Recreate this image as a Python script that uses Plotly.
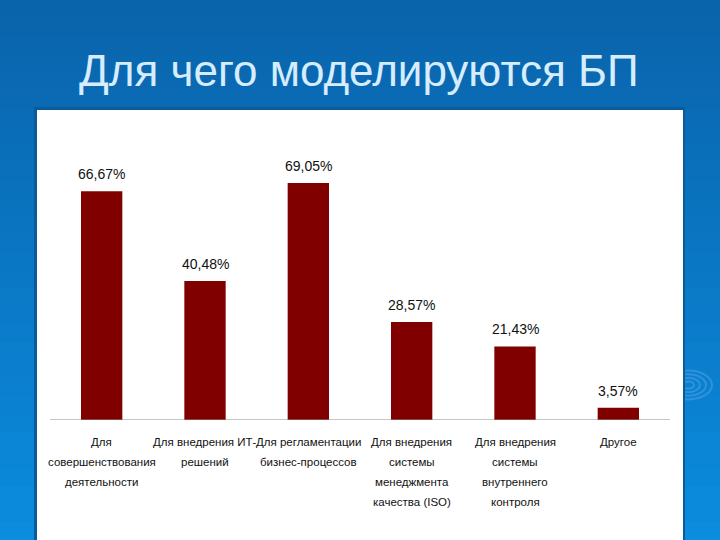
import plotly.graph_objects as go

title = "Для чего моделируются БП"
categories = [
    "Для<br>совершенствования<br>деятельности",
    "Для внедрения ИТ-<br>решений",
    "Для регламентации<br>бизнес-процессов",
    "Для внедрения<br>системы<br>менеджмента<br>качества (ISO)",
    "Для внедрения<br>системы<br>внутреннего<br>контроля",
    "Другое",
]
values = [66.67, 40.48, 69.05, 28.57, 21.43, 3.57]

W, H = 720, 540
L, R, T, B = 50, 50, 130, 120
PW, PH = W - L - R, H - T - B


def px(x):
    return (x - L) / PW


def py(y):
    return (H - B - y) / PH


keys = [f"c{i}" for i in range(len(categories))]

fig = go.Figure()
fig.add_trace(go.Bar(
    x=keys, y=values, marker=dict(color="#800000", line=dict(width=0)),
    hoverinfo="skip",
))

shapes = []
# background vertical gradient
n = 30
top_c = (10, 100, 172)
bot_c = (12, 140, 222)
for i in range(n):
    f = i / (n - 1)
    c = tuple(int(top_c[k] + (bot_c[k] - top_c[k]) * f) for k in range(3))
    shapes.append(dict(type="rect", xref="paper", yref="paper", layer="below",
                       x0=px(-2), x1=px(W + 2), y0=py(H * i / n), y1=py(H * (i + 1) / n + 1),
                       fillcolor=f"rgb{c}", line=dict(width=0)))
# swirl decoration
for r in (6, 12, 18, 24):
    shapes.append(dict(type="circle", xref="paper", yref="paper", layer="below",
                       x0=px(688 - r), x1=px(688 + r), y0=py(385 + r * 0.6), y1=py(385 - r * 0.6),
                       line=dict(color="rgba(130,190,245,0.3)", width=2), fillcolor="rgba(0,0,0,0)"))
# panel shadow + white panel
shapes.append(dict(type="rect", xref="paper", yref="paper", layer="below",
                   x0=px(34), x1=px(685), y0=py(H + 2), y1=py(107),
                   fillcolor="#0b5a9a", line=dict(width=0)))
shapes.append(dict(type="rect", xref="paper", yref="paper", layer="below",
                   x0=px(37), x1=px(683), y0=py(H + 2), y1=py(110),
                   fillcolor="white", line=dict(width=0)))
# baseline
shapes.append(dict(type="line", xref="paper", yref="y", x0=0, x1=1, y0=0, y1=0,
                   line=dict(color="#8c8c8c", width=1)))

annotations = []
for k, v in zip(keys, values):
    annotations.append(dict(x=k, y=v, xref="x", yref="y", text=f"{v:.2f}%".replace(".", ","),
                            showarrow=False, yanchor="bottom", yshift=7,
                            font=dict(family="Liberation Sans, Arial", size=14, color="#111")))
for k, lab in zip(keys, categories):
    for i, line in enumerate(lab.split("<br>")):
        annotations.append(dict(x=k, y=0, xref="x", yref="y", text=line, showarrow=False,
                                yanchor="middle", yshift=-(22 + 20 * i),
                                font=dict(family="Liberation Sans, Arial", size=11.5, color="#111")))
annotations.append(dict(x=px(359), y=py(70), xref="paper", yref="paper", text=title,
                        showarrow=False, yanchor="middle", xanchor="center",
                        font=dict(family="Liberation Sans, Arial", size=44, color="#d6edff")))

fig.update_layout(
    width=W, height=H, margin=dict(l=L, r=R, t=T, b=B, autoexpand=False),
    paper_bgcolor="#0a66ae", plot_bgcolor="rgba(0,0,0,0)",
    bargap=0.6, showlegend=False,
    xaxis=dict(showticklabels=False, showgrid=False, zeroline=False, showline=False,
               range=[-0.5, len(keys) - 0.5], fixedrange=True),
    yaxis=dict(visible=False, range=[0, 84.5], fixedrange=True),
    shapes=shapes, annotations=annotations,
)
fig.write_html("out.html", config={"displayModeBar": False},
               post_script="document.body.style.margin='0';document.body.style.overflow='hidden';")
